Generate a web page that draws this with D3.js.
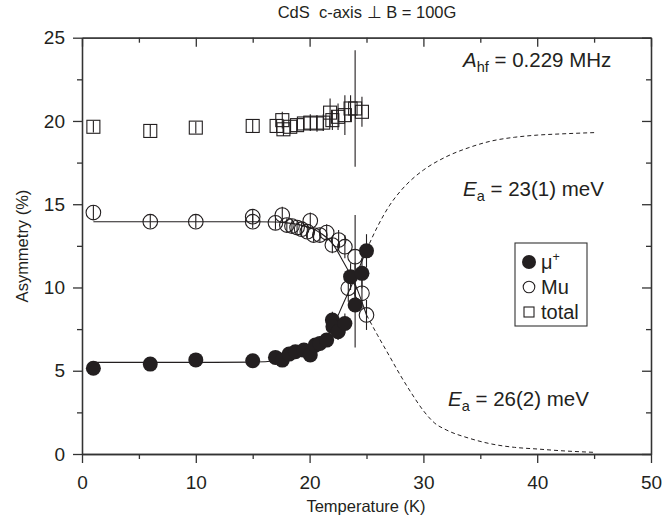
<!DOCTYPE html>
<html>
<head>
<meta charset="utf-8">
<script src="https://cdn.jsdelivr.net/npm/d3@7"></script>
<style>
  body { margin: 0; background: #fff; }
  text { font-family: "Liberation Sans", Arial, Helvetica, sans-serif; fill: #231f20; }
  .axis path, .axis line { stroke: #333; stroke-width: 1.3; }
</style>
</head>
<body>
<svg id="chart" width="667" height="525"></svg>
<script>
// ---- data: asymmetry (%) vs temperature (K) ----
// diamagnetic muon (mu+)
const muPlusT   = [1.0, 6.0, 10.0, 15.0, 17.0, 17.6, 18.2, 18.75, 19.5, 20.06, 20.5, 20.9, 21.5, 22.0, 22.05, 22.5, 23.1, 23.6, 24.0, 24.6, 25.0];
const muPlusA   = [5.15, 5.4, 5.65, 5.6, 5.8, 5.64, 6.0, 6.14, 6.24, 5.95, 6.54, 6.64, 6.84, 8.04, 7.64, 7.34, 7.84, 10.65, 8.95, 10.85, 12.2];
const muPlusErr = [0.3, 0.3, 0.3, 0.3, 0.3, 0.3, 0.3, 0.3, 0.3, 0.3, 0.3, 0.3, 0.3, 0.5, 0.5, 0.5, 0.6, 0.8, 2.55, 0.9, 1.0];

// muonium (Mu)
const muT   = [1.0, 6.0, 10.0, 15.0, 15.0, 17.0, 17.6, 18.0, 18.45, 18.9, 19.3, 19.8, 20.06, 20.35, 20.9, 21.5, 22.0, 22.55, 23.1, 23.4, 24.0, 24.6, 25.0];
const muA   = [14.5, 13.95, 13.95, 14.25, 13.95, 13.88, 14.35, 13.75, 13.69, 13.6, 13.5, 13.35, 14.0, 13.15, 13.15, 13.3, 12.55, 12.85, 12.45, 9.95, 11.85, 9.65, 8.35];
const muErr = [0.45, 0.4, 0.4, 0.4, 0.4, 0.4, 0.5, 0.4, 0.4, 0.4, 0.4, 0.4, 0.5, 0.4, 0.4, 0.5, 0.5, 0.6, 0.7, 0.8, 2.5, 0.9, 0.9];

// total asymmetry
const totT   = [1.0, 6.0, 10.0, 15.0, 17.1, 17.6, 17.7, 18.3, 18.9, 19.5, 20.06, 20.65, 21.2, 21.8, 22.0, 22.5, 23.1, 23.6, 24.0, 24.6];
const totA   = [19.65, 19.4, 19.6, 19.7, 19.7, 20.05, 19.5, 19.65, 19.75, 19.85, 19.9, 19.85, 19.9, 20.5, 20.05, 20.25, 20.35, 20.75, 20.75, 20.55];
const totErr = [0.35, 0.35, 0.35, 0.4, 0.4, 0.5, 0.4, 0.4, 0.4, 0.4, 0.5, 0.5, 0.5, 0.85, 0.6, 0.8, 1.2, 0.8, 3.5, 0.9];

// Arrhenius fits: solid over the measured range, dashed extrapolation
const fitMuPlusT    = [1, 5, 10, 15, 17, 18, 19, 20, 21, 22, 23, 24, 25];
const fitMuPlusA    = [5.5, 5.5, 5.5, 5.52, 5.6, 5.7, 5.85, 6.1, 6.6, 7.6, 9.1, 10.6, 12.25];
const extMuPlusT    = [25, 26, 27, 28, 29, 30, 32, 34, 36, 38, 40, 42, 45];
const extMuPlusA    = [12.25, 13.7, 14.9, 15.8, 16.5, 17.05, 17.85, 18.4, 18.8, 19.02, 19.15, 19.22, 19.3];
const fitMuT        = [1, 5, 10, 15, 17, 18, 19, 20, 21, 22, 23, 24, 25];
const fitMuA        = [13.95, 13.95, 13.95, 13.95, 13.93, 13.88, 13.78, 13.6, 13.25, 12.65, 11.5, 10.2, 8.35];
const extMuT        = [25, 26, 27, 28, 29, 30, 31, 32, 34, 36, 38, 40, 42, 45];
const extMuA        = [8.35, 7.1, 5.9, 4.7, 3.6, 2.6, 1.85, 1.45, 0.95, 0.6, 0.4, 0.3, 0.2, 0.1];

// axis ticks
const xMajor = [0, 10, 20, 30, 40, 50];
const xMinor = [5, 15, 25, 35, 45];
const yMajor = [0, 5, 10, 15, 20, 25];
const yMinor = [2.5, 7.5, 12.5, 17.5, 22.5];

const legendLabels = ["\u03bc", "Mu", "total"];

// ---- layout ----
const svg = d3.select("#chart");
const x = d3.scaleLinear().domain([0, 50]).range([82, 651]);
const y = d3.scaleLinear().domain([0, 25]).range([454, 37.7]);
const ink = "#231f20";

const zip = (a, b, e) => a.map((t, i) => ({ t, v: b[i], e: e ? e[i] : 0 }));
const muPlus = zip(muPlusT, muPlusA, muPlusErr);
const mu = zip(muT, muA, muErr);
const tot = zip(totT, totA, totErr);

// ---- axes ----
function addAxis(gen, transform, values, size, labels) {
  const g = svg.append("g").attr("class", "axis").attr("transform", transform)
    .call(gen.tickValues(values).tickSizeInner(size).tickSizeOuter(0)
      .tickPadding(size > 0 ? 9 : 0)
      .tickFormat(labels ? d3.format("d") : ""));
  g.selectAll("text").style("font-size", "19px").attr("fill", ink);
  return g;
}
addAxis(d3.axisBottom(x), `translate(0,${y(0)})`, xMajor, 9, true).selectAll("text").attr("dy", "0.72em").attr("y", 21);
addAxis(d3.axisBottom(x), `translate(0,${y(0)})`, xMinor, 5, false);
addAxis(d3.axisTop(x), `translate(0,${y(25)})`, xMajor, -9, false);
addAxis(d3.axisTop(x), `translate(0,${y(25)})`, xMinor, -5, false);
addAxis(d3.axisLeft(y), `translate(${x(0)},0)`, yMajor, 9, true).selectAll("text").attr("x", -17);
addAxis(d3.axisLeft(y), `translate(${x(0)},0)`, yMinor, 5, false);
addAxis(d3.axisRight(y), `translate(${x(50)},0)`, yMajor, -9, false);
addAxis(d3.axisRight(y), `translate(${x(50)},0)`, yMinor, -5, false);

// axis titles
svg.append("text").attr("x", 366).attr("y", 512).attr("text-anchor", "middle")
  .style("font-size", "16.5px").text("Temperature (K)");
svg.append("text").attr("transform", "translate(28,246) rotate(-90)").attr("text-anchor", "middle")
  .style("font-size", "16.5px").text("Asymmetry (%)");
svg.append("text").attr("x", 367).attr("y", 18).attr("text-anchor", "middle")
  .attr("xml:space", "preserve").style("white-space", "pre")
  .style("font-size", "16.5px").text("CdS  c-axis \u22a5 B = 100G");

// ---- fit curves ----
const line = d3.line().x(d => x(d.t)).y(d => y(d.v)).curve(d3.curveMonotoneX);
const curves = svg.append("g").attr("fill", "none").attr("stroke", ink);
curves.append("path").attr("d", line(zip(fitMuPlusT, fitMuPlusA))).attr("stroke-width", 1.1);
curves.append("path").attr("d", line(zip(fitMuT, fitMuA))).attr("stroke-width", 1.1);
curves.append("path").attr("d", line(zip(extMuPlusT, extMuPlusA))).attr("stroke-width", 1).attr("stroke-dasharray", "4,3");
curves.append("path").attr("d", line(zip(extMuT, extMuA))).attr("stroke-width", 1).attr("stroke-dasharray", "4,3");

// ---- error bars ----
const bars = svg.append("g").attr("stroke", ink).attr("stroke-width", 1.1);
[tot, mu, muPlus].forEach(series => {
  bars.selectAll(null).data(series).enter().append("line")
    .attr("x1", d => x(d.t)).attr("x2", d => x(d.t))
    .attr("y1", d => y(d.v - d.e)).attr("y2", d => y(d.v + d.e));
});

// ---- markers ----
const S = 13;
svg.append("g").selectAll("rect").data(tot).enter().append("rect")
  .attr("x", d => x(d.t) - S / 2).attr("y", d => y(d.v) - S / 2)
  .attr("width", S).attr("height", S)
  .attr("fill", "none").attr("stroke", ink).attr("stroke-width", 1.1);
svg.append("g").selectAll("circle").data(mu).enter().append("circle")
  .attr("cx", d => x(d.t)).attr("cy", d => y(d.v)).attr("r", 7.3)
  .attr("fill", "none").attr("stroke", ink).attr("stroke-width", 1.1);
svg.append("g").selectAll("circle").data(muPlus).enter().append("circle")
  .attr("cx", d => x(d.t)).attr("cy", d => y(d.v)).attr("r", 7.5)
  .attr("fill", ink);

// ---- annotations ----
function ann(xp, yp, sym, sub, rest) {
  const t = svg.append("text").attr("x", xp).attr("y", yp).style("font-size", "20.5px");
  t.append("tspan").style("font-style", "italic").text(sym);
  t.append("tspan").attr("dy", 4.5).style("font-size", "14.5px").text(sub);
  t.append("tspan").attr("dy", -4.5).text(rest);
}
ann(463, 67, "A", "hf", " = 0.229 MHz");
ann(463, 196, "E", "a", " = 23(1) meV");
ann(448, 406, "E", "a", " = 26(2) meV");

// ---- legend ----
const lg = svg.append("g");
lg.append("rect").attr("x", 515).attr("y", 243).attr("width", 72).attr("height", 83)
  .attr("fill", "#fff").attr("stroke", "#333").attr("stroke-width", 1.1);
lg.append("circle").attr("cx", 529).attr("cy", 262).attr("r", 7).attr("fill", ink);
lg.append("circle").attr("cx", 529).attr("cy", 287).attr("r", 5.8).attr("fill", "none").attr("stroke", ink).attr("stroke-width", 1.1);
lg.append("rect").attr("x", 524).attr("y", 307).attr("width", 10).attr("height", 10).attr("fill", "none").attr("stroke", ink).attr("stroke-width", 1.1);
const lt = lg.selectAll("text").data(legendLabels).enter().append("text")
  .attr("x", 541).attr("y", (d, i) => 269 + i * 25).style("font-size", "20px").text(d => d);
lt.filter((d, i) => i === 0).append("tspan").attr("dy", -8).style("font-size", "12.5px").text("+");
</script>
</body>
</html>
